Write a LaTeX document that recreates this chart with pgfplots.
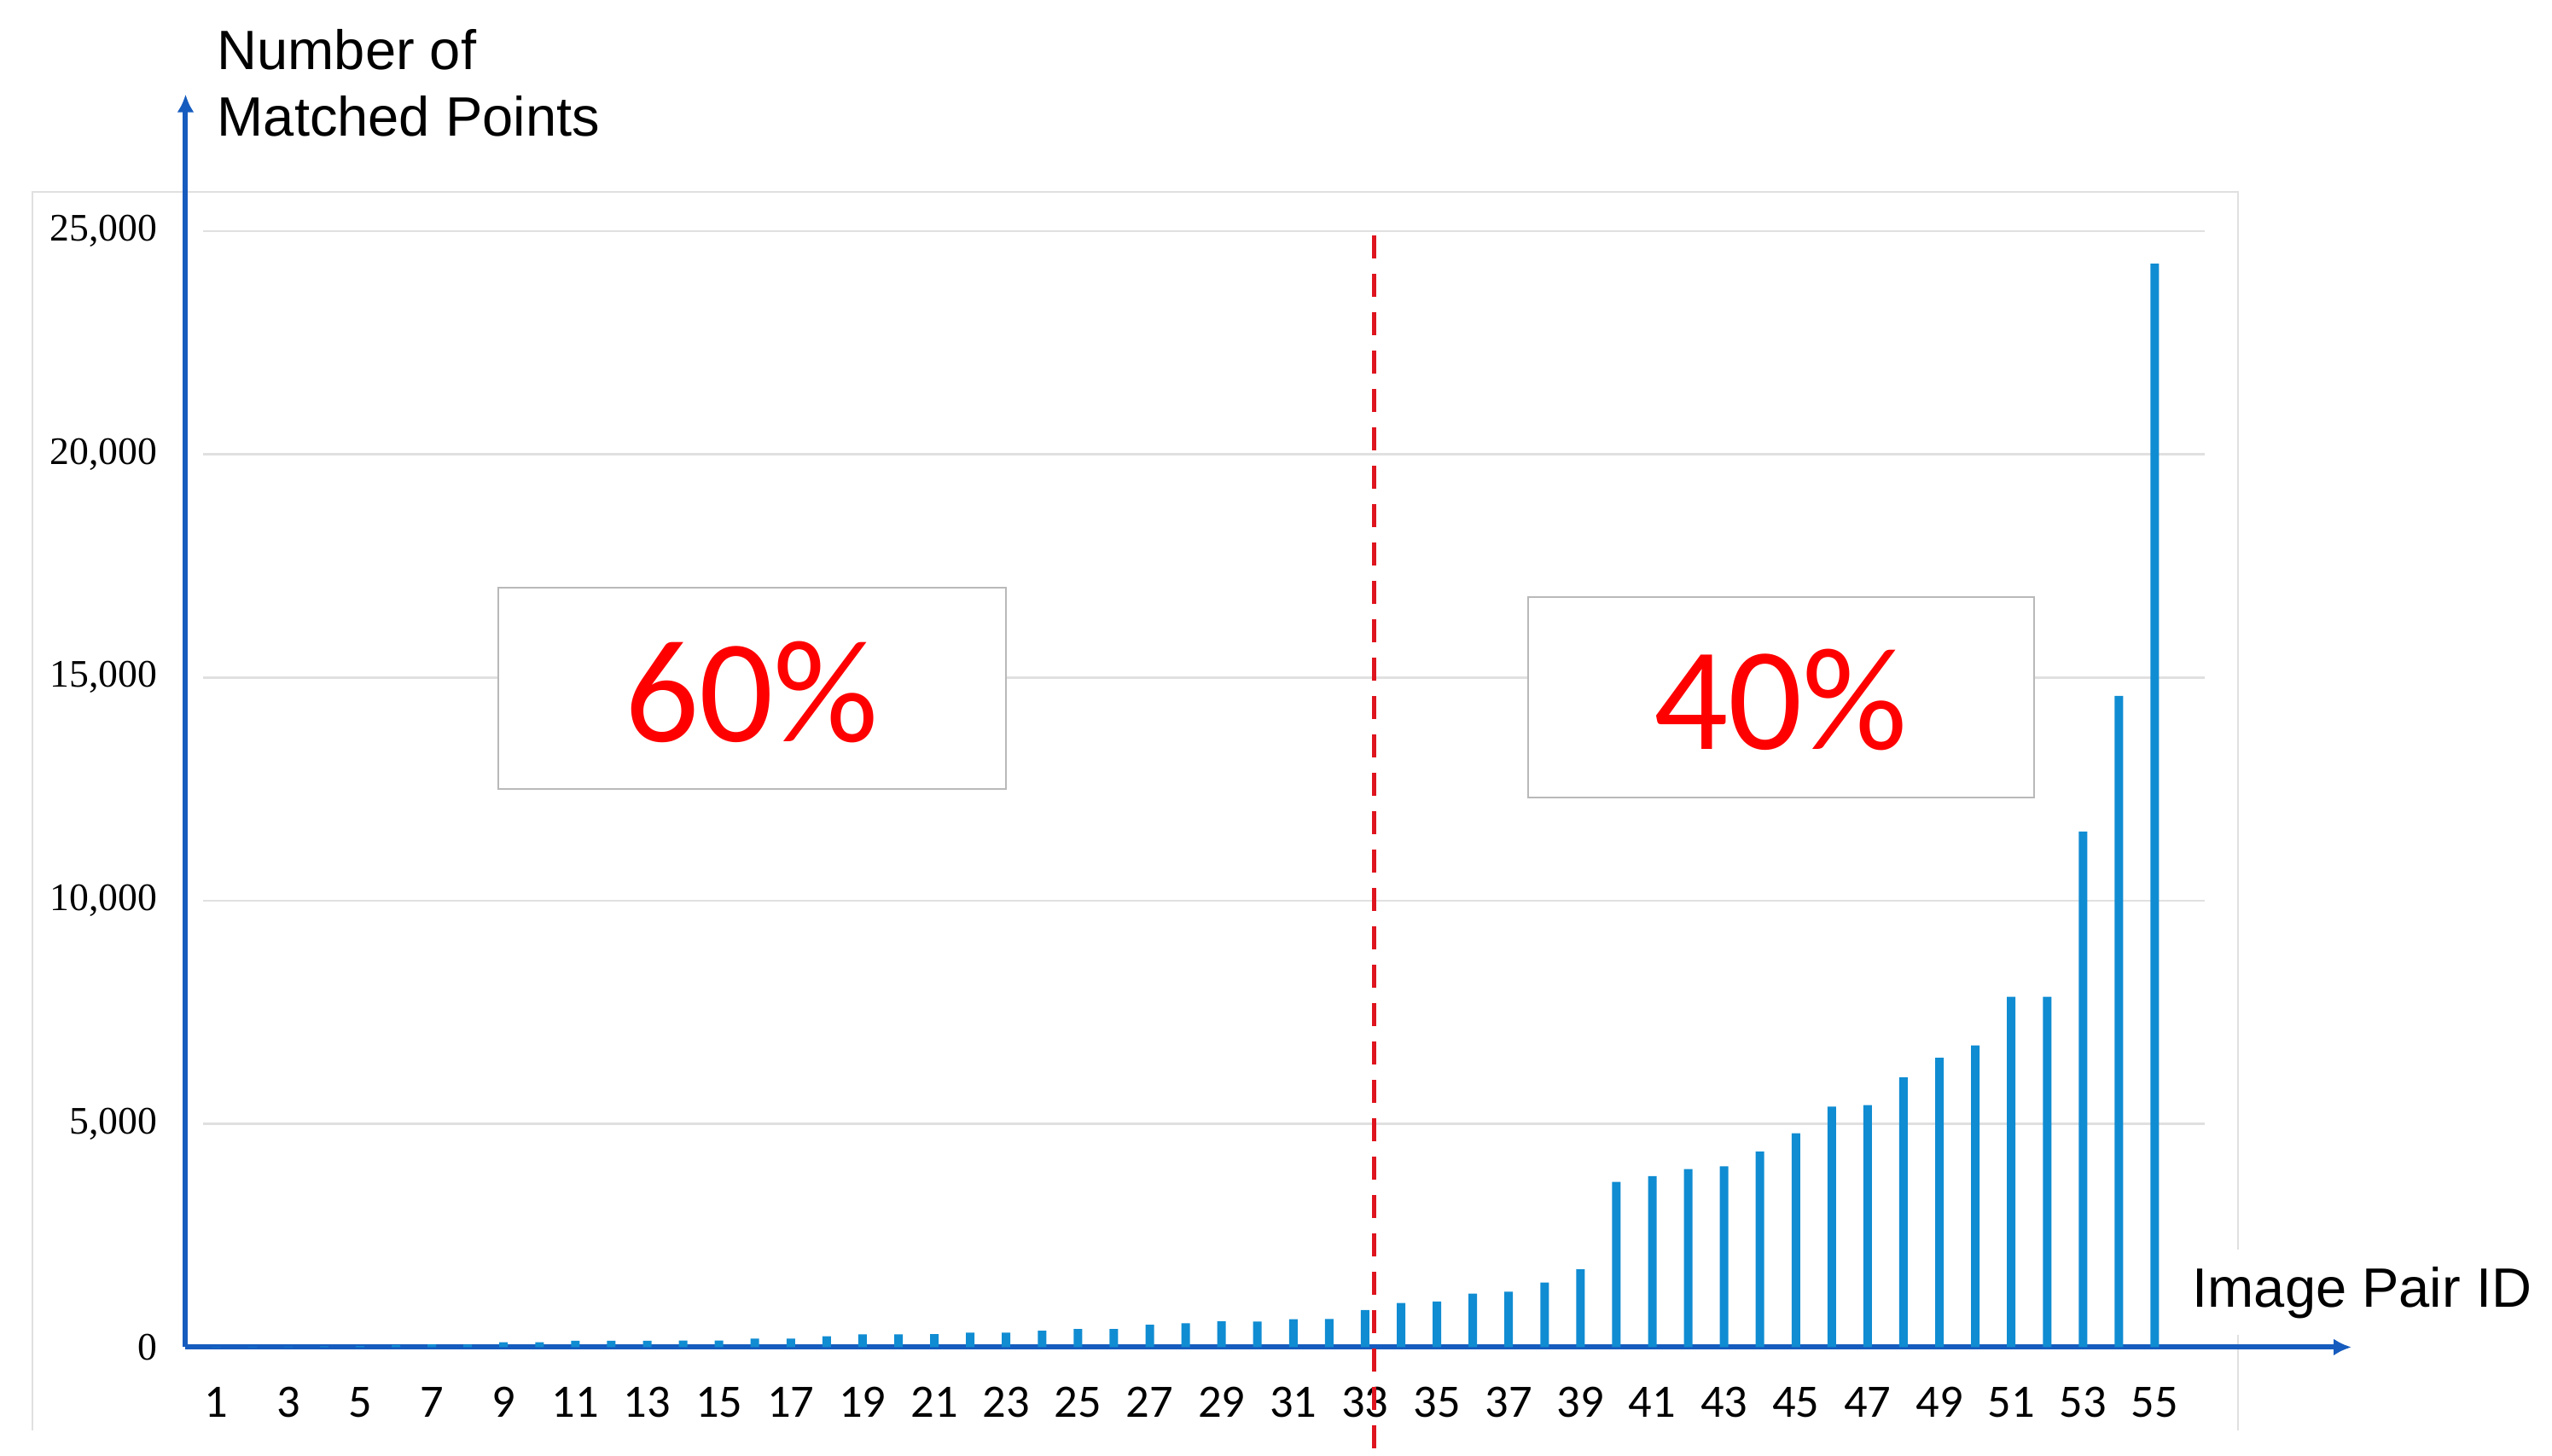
\documentclass[border=0pt]{standalone}
\usepackage{fontspec}
\setmainfont{Liberation Sans}
\newfontfamily\serifnum{Liberation Serif}
\newfontfamily\calibri{Carlito}
\usepackage{pgfplots}
\usepackage{pgfplotstable}
\pgfplotsset{compat=1.18}
\usetikzlibrary{arrows.meta}

\definecolor{barblue}{RGB}{16,140,210}
\definecolor{axisblue}{RGB}{22,92,190}
\definecolor{gridgray}{RGB}{224,224,224}
\definecolor{boxgray}{RGB}{185,185,185}
\definecolor{dashred}{RGB}{222,20,30}
\definecolor{pctred}{RGB}{255,0,0}

% matched points per image pair
\pgfplotstableread{
id count
1 5
2 8
3 12
4 18
5 25
6 50
7 64
8 57
9 108
10 108
11 146
12 146
13 146
14 150
15 150
16 191
17 191
18 242
19 287
20 287
21 290
22 325
23 325
24 369
25 408
26 408
27 503
28 535
29 580
30 575
31 624
32 630
33 830
34 990
35 1025
36 1200
37 1240
38 1450
39 1745
40 3700
41 3830
42 3990
43 4050
44 4380
45 4790
46 5390
47 5420
48 6045
49 6480
50 6760
51 7850
52 7850
53 11550
54 14590
55 24270
}\pairs

\begin{document}
\begin{tikzpicture}
\path[use as bounding box] (0,0) rectangle (299.1mm,170.6mm);
% faint frame of the chart area
\draw[gridgray, line width=0.2mm] (3.8mm,2.9mm) -- (3.8mm,148.1mm) -- (262.3mm,148.1mm) -- (262.3mm,2.9mm);

\begin{axis}[
  at={(21.75mm,12.66mm)}, anchor=south west,
  width=253.85mm, height=146.88mm, scale only axis,
  xmin=0.14, xmax=60.48, ymin=0, ymax=28063,
  axis x line*=bottom, axis y line*=left,
  axis line style={axisblue, line width=0.6mm, -{Latex[length=2.1mm,width=2mm]}},
  major tick length=0,
  xtick={1,3,...,55},
  ytick={0,5000,...,25000},
  yticklabels={0,{5,000},{10,000},{15,000},{20,000},{25,000}},
  scaled y ticks=false,
  /pgf/number format/assume math mode=true,
  xticklabel style={font=\calibri\fontsize{15.5}{16}\selectfont, anchor=center, yshift=-6.46mm},
  yticklabel style={font=\serifnum\fontsize{13}{14}\selectfont, anchor=east, inner sep=0pt, xshift=-3.25mm},
  ybar, bar width=1.0mm,
  clip=false,
]
  \pgfplotsinvokeforeach{5000,10000,15000,20000,25000}{
    \draw[gridgray, line width=0.25mm] (axis cs:0.63,#1) -- (axis cs:56.4,#1);
  }
  \draw[boxgray, fill=white, line width=0.2mm] (axis cs:8.84,12501) rectangle (axis cs:23.0,17020);
  \node[pctred, font=\calibri\fontsize{49}{50}\selectfont] at (axis cs:15.91,14681) {60\%};
  \draw[boxgray, fill=white, line width=0.2mm] (axis cs:37.54,12312) rectangle (axis cs:51.64,16802);
  \node[pctred, font=\calibri\fontsize{49}{50}\selectfont] at (axis cs:44.58,14509) {40\%};

  \addplot[fill=barblue, draw=none] table[x=id, y=count] {\pairs};

  \coordinate (rtop) at (axis cs:33.25,24900);
  \coordinate (rbot) at (axis cs:33.25,-2420);
\end{axis}

\draw[dashred, line width=0.5mm, dash pattern=on 2.7mm off 1.8mm] (rtop) -- (rbot);

\node[anchor=base west, inner sep=0pt, font=\fontsize{18.5}{22}\selectfont] at (25.4mm,162.4mm) {Number of};
\node[anchor=base west, inner sep=0pt, font=\fontsize{18.5}{22}\selectfont] at (25.4mm,154.6mm) {Matched Points};
\node[anchor=base west, fill=white, inner xsep=0pt, inner ysep=2mm, font=\fontsize{18.5}{22}\selectfont] at (256.9mm,17.4mm) {Image Pair ID};
\end{tikzpicture}
\end{document}
